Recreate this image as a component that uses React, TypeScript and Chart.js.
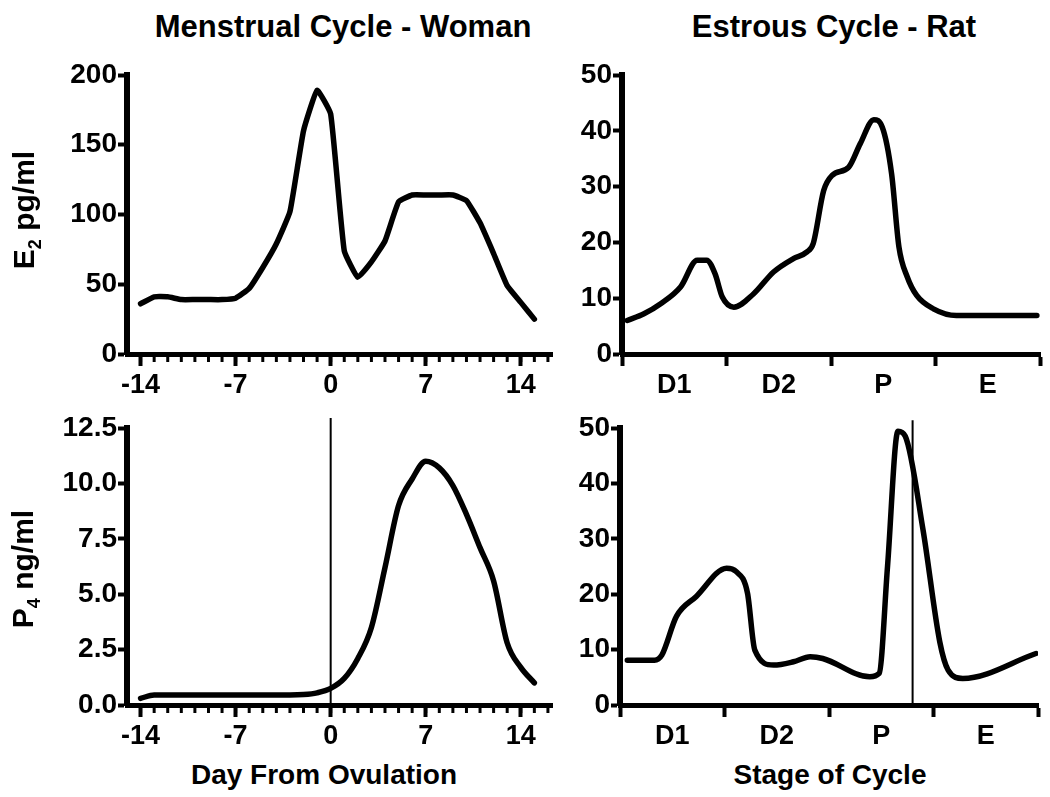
import React, { useEffect, useRef } from 'react';
import { Chart, registerables } from 'chart.js';

Chart.register(...registerables);

const FONT = "'Liberation Sans', Arial, Helvetica, sans-serif";
Chart.defaults.font.family = FONT;
Chart.defaults.color = '#000';

// ---- Woman (menstrual cycle) ----
const DAYS = [-14, -13, -12, -11, -10, -9, -8, -7, -6, -5, -4, -3, -2, -1, 0, 1, 2, 3, 4, 5, 6, 7, 8, 9, 10, 11, 12, 13, 14, 15];
const E2_WOMAN = [36, 41, 41, 39, 39, 39, 39, 40, 47, 62, 79, 102, 160, 189, 172, 74, 55, 66, 81, 109, 114, 114, 114, 114, 110, 94, 72, 49, 37, 25];
const P4_WOMAN = [0.3, 0.45, 0.45, 0.45, 0.45, 0.45, 0.45, 0.45, 0.45, 0.45, 0.45, 0.45, 0.47, 0.55, 0.75, 1.2, 2.1, 3.5, 6.2, 9.0, 10.2, 11.0, 10.7, 9.9, 8.6, 7.1, 5.6, 2.8, 1.7, 1.0];
const DAY_MAJOR_TICKS = [-14, -7, 0, 7, 14];
const DAY_MINOR_TICKS = [-14, -13, -12, -11, -10, -9, -8, -7, -6, -5, -4, -3, -2, -1, 0, 1, 2, 3, 4, 5, 6, 7, 8, 9, 10, 11, 12, 13, 14, 15, 16];
const OVULATION_DAY = 0;

// ---- Rat (estrous cycle) ----
const STAGES = ['D1', 'D2', 'P', 'E'];
const STAGE_TICKS = [0, 0.5, 1, 1.5, 2, 2.5, 3, 3.5, 4];
const E2_RAT_X = [0.05, 0.21, 0.37, 0.56, 0.72, 0.81, 0.89, 0.96, 1.07, 1.26, 1.45, 1.64, 1.77, 1.83, 1.93, 2.01, 2.17, 2.28, 2.41, 2.49, 2.58, 2.65, 2.73, 2.82, 2.98, 3.2, 3.97];
const E2_RAT_Y = [6.0, 7.2, 9.0, 12.0, 16.8, 16.8, 14.4, 10.2, 8.4, 10.8, 14.7, 17.1, 18.3, 19.8, 29.3, 32.0, 33.5, 37.7, 42.0, 40.7, 32.3, 19.2, 13.8, 10.5, 8.1, 6.9, 6.9];
const P4_RAT_X = [0.07, 0.33, 0.4, 0.54, 0.73, 1.02, 1.11, 1.22, 1.29, 1.47, 1.66, 1.82, 1.94, 2.39, 2.48, 2.56, 2.66, 2.73, 2.9, 3.06, 3.14, 3.28, 3.98];
const P4_RAT_Y = [8.1, 8.1, 9.0, 16.0, 19.6, 24.7, 24.1, 20.2, 9.9, 7.2, 7.8, 8.7, 8.4, 5.1, 5.7, 25.0, 49.4, 48.5, 31.6, 11.4, 6.3, 4.8, 9.3];
const RAT_OVULATION_STAGE = 2.8;

const lineDataset = (pts: { x: number; y: number }[], smooth: boolean) => ({
  data: pts,
  borderColor: '#000',
  borderWidth: 5.5,
  pointRadius: 0,
  fill: false,
  cubicInterpolationMode: smooth ? 'monotone' : 'default',
  tension: smooth ? 0.4 : 0.12,
  borderJoinStyle: 'round',
  borderCapStyle: 'round',
});

const vlineDataset = (x: number, top: number) => ({
  data: [{ x, y: 0 }, { x, y: top }],
  borderColor: '#000',
  borderWidth: 2,
  pointRadius: 0,
  tension: 0,
  fill: false,
  clip: false,
});

const yScale = (min: number, max: number, step: number, width: number, decimals?: number) => ({
  type: 'linear',
  min,
  max,
  afterFit: (s: any) => { s.width = width; },
  ticks: {
    stepSize: step,
    color: '#000',
    padding: 1,
    font: { size: 28, weight: 'bold', family: FONT },
    callback: (v: any) => (decimals ? Number(v).toFixed(decimals) : String(v)),
  },
  grid: { drawOnChartArea: false, drawTicks: true, tickLength: 9, tickWidth: 4, tickColor: '#000' },
  border: { display: true, color: '#000', width: 6 },
});

const dayXScale = () => ({
  type: 'linear',
  min: -15,
  max: 16.3,
  afterFit: (s: any) => { s.height = 41; },
  afterBuildTicks: (s: any) => { s.ticks = DAY_MAJOR_TICKS.map((v) => ({ value: v })); },
  ticks: {
    autoSkip: false,
    maxRotation: 0,
    color: '#000',
    padding: 3,
    font: { size: 27, weight: 'bold', family: FONT },
    callback: (v: any) => String(v),
  },
  grid: { drawOnChartArea: false, drawTicks: true, tickLength: 12, tickWidth: 4, tickColor: '#000' },
  border: { display: true, color: '#000', width: 5 },
});

const stageXScale = () => ({
  type: 'linear',
  min: 0,
  max: 4,
  afterFit: (s: any) => { s.height = 41; },
  afterBuildTicks: (s: any) => { s.ticks = STAGE_TICKS.map((v) => ({ value: v })); },
  ticks: {
    autoSkip: false,
    maxRotation: 0,
    color: '#000',
    padding: 3,
    font: { size: 27, weight: 'bold', family: FONT },
    callback: (v: any) => (Number.isInteger(Number(v)) ? '' : STAGES[Math.floor(Number(v))]),
  },
  grid: {
    drawOnChartArea: false,
    drawTicks: true,
    tickLength: 12,
    tickWidth: 4,
    tickColor: (ctx: any) => (ctx.tick && Number.isInteger(ctx.tick.value) ? '#000' : 'rgba(0,0,0,0)'),
  },
  border: { display: true, color: '#000', width: 5 },
});

const minorTickPlugin = (values: number[]) => ({
  id: 'minorTicks',
  afterDraw(chart: any) {
    const xs = chart.scales.x;
    const { ctx, chartArea } = chart;
    ctx.save();
    ctx.strokeStyle = '#000';
    ctx.lineWidth = 3;
    values.forEach((v) => {
      const px = xs.getPixelForValue(v);
      ctx.beginPath();
      ctx.moveTo(px, chartArea.bottom);
      ctx.lineTo(px, chartArea.bottom + 8);
      ctx.stroke();
    });
    ctx.restore();
  },
});

const makeConfig = (datasets: any[], x: any, y: any, padding: any, plugins: any[] = []) => ({
  type: 'line',
  data: { datasets },
  options: {
    responsive: false,
    animation: false,
    devicePixelRatio: 1,
    layout: { padding },
    plugins: { legend: { display: false }, tooltip: { enabled: false }, title: { display: false } },
    scales: { x, y },
  },
  plugins,
});

function Panel({ left, top, width, height, config }: any) {
  const ref = useRef<HTMLCanvasElement | null>(null);
  useEffect(() => {
    const chart = new Chart(ref.current as HTMLCanvasElement, config);
    return () => chart.destroy();
  }, []);
  return (
    <canvas
      ref={ref}
      width={width}
      height={height}
      style={{ position: 'absolute', left, top, width, height, display: 'block' }}
    />
  );
}

const textStyle = (x: number, y: number, size: number, rotate = false): React.CSSProperties => ({
  position: 'absolute',
  left: x,
  top: y,
  transform: `translate(-50%, -50%)${rotate ? ' rotate(-90deg)' : ''}`,
  fontFamily: FONT,
  fontWeight: 'bold',
  fontSize: size,
  lineHeight: 1,
  whiteSpace: 'nowrap',
  color: '#000',
});

export default function App() {
  const e2Woman = DAYS.map((d, i) => ({ x: d, y: E2_WOMAN[i] }));
  const p4Woman = DAYS.map((d, i) => ({ x: d, y: P4_WOMAN[i] }));
  const e2Rat = E2_RAT_X.map((x, i) => ({ x, y: E2_RAT_Y[i] }));
  const p4Rat = P4_RAT_X.map((x, i) => ({ x, y: P4_RAT_Y[i] }));

  const cfgTL = makeConfig([lineDataset(e2Woman, false)], dayXScale(), yScale(0, 200, 50, 127), { left: 0, right: 8, top: 30, bottom: 0 }, [minorTickPlugin(DAY_MINOR_TICKS)]);
  const cfgTR = makeConfig([lineDataset(e2Rat, true)], stageXScale(), yScale(0, 50, 10, 62), { left: 0, right: 10, top: 30, bottom: 0 });
  const cfgBL = makeConfig([vlineDataset(OVULATION_DAY, 12.95), lineDataset(p4Woman, true)], dayXScale(), yScale(0, 12.5, 2.5, 127, 1), { left: 0, right: 8, top: 28, bottom: 0 }, [minorTickPlugin(DAY_MINOR_TICKS)]);
  const cfgBR = makeConfig([vlineDataset(RAT_OVULATION_STAGE, 51.4), lineDataset(p4Rat, true)], stageXScale(), yScale(0, 50, 10, 60), { left: 0, right: 12, top: 28, bottom: 0 });

  return (
    <div style={{ position: 'absolute', left: 0, top: 0, width: 1050, height: 797, background: '#fff', overflow: 'hidden' }}>
      <Panel left={0} top={45} width={560} height={350} config={cfgTL} />
      <Panel left={560} top={45} width={490} height={350} config={cfgTR} />
      <Panel left={0} top={400} width={560} height={346} config={cfgBL} />
      <Panel left={560} top={400} width={490} height={346} config={cfgBR} />

      <div style={textStyle(343, 26, 31)}>Menstrual Cycle - Woman</div>
      <div style={textStyle(834, 26, 31)}>Estrous Cycle - Rat</div>
      <div style={textStyle(324, 775, 28)}>Day From Ovulation</div>
      <div style={textStyle(830, 775, 28)}>Stage of Cycle</div>
      <div style={textStyle(26, 210, 30, true)}>
        E<sub style={{ fontSize: '0.6em' }}>2</sub> pg/ml
      </div>
      <div style={textStyle(25, 569, 30, true)}>
        P<sub style={{ fontSize: '0.6em' }}>4</sub> ng/ml
      </div>
    </div>
  );
}
